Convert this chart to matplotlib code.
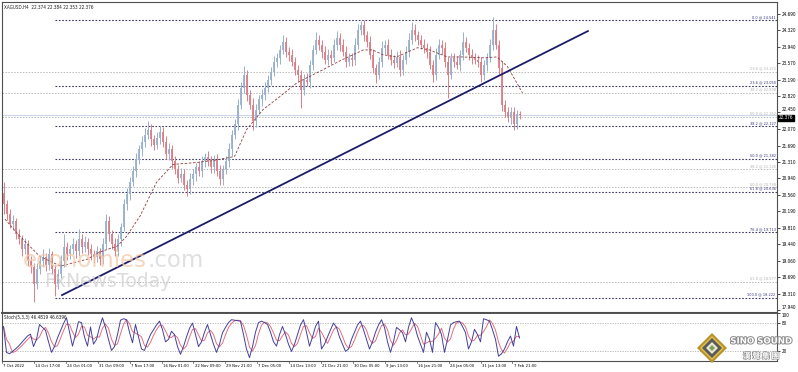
import numpy as np
import pandas as pd
import matplotlib
matplotlib.use("Agg")
import matplotlib.pyplot as plt
from matplotlib import font_manager
from matplotlib.patches import Polygon
import matplotlib.patheffects as pe

# XAGUSD H4 closes (compressed, one bar here ~ 4 chart bars)
closes = [20.35, 20.12, 19.90, 19.96, 19.67, 19.55, 19.33, 19.44, 19.05, 18.92,
          18.53, 18.87, 19.05, 19.14, 18.96, 19.21, 18.87, 18.53, 18.76, 19.05,
          19.37, 19.21, 19.33, 19.44, 19.28, 19.55, 19.37, 19.48, 19.33, 19.21,
          19.14, 19.28, 19.10, 19.44, 19.96, 19.67, 19.44, 19.28, 19.55, 19.83,
          20.35, 20.58, 20.87, 21.10, 21.37, 21.60, 21.78, 21.94, 22.05, 21.83,
          21.71, 21.87, 22.01, 21.78, 21.49, 21.60, 21.33, 21.15, 20.96, 21.03,
          20.80, 20.69, 20.92, 21.03, 21.19, 21.10, 21.33, 21.42, 21.33, 21.19,
          21.37, 21.10, 20.92, 21.15, 21.33, 21.60, 21.94, 22.17, 22.62, 23.01,
          23.30, 22.85, 22.62, 22.24, 22.51, 22.74, 22.85, 23.01, 23.19, 23.37,
          23.60, 23.69, 23.87, 24.05, 23.83, 23.76, 23.60, 23.42, 23.30, 22.96,
          23.19, 23.15, 23.53, 23.87, 24.10, 23.99, 23.83, 23.65, 23.76, 23.69,
          23.99, 24.15, 23.99, 23.83, 23.60, 23.69, 23.65, 23.99, 24.33, 24.44,
          24.21, 24.05, 23.76, 23.46, 23.30, 23.60, 23.92, 23.99, 23.76, 23.65,
          23.58, 23.72, 23.42, 23.65, 23.83, 24.10, 24.33, 24.21, 24.10, 23.99,
          23.92, 23.83, 23.53, 23.30, 23.76, 23.99, 23.92, 23.60, 23.30, 23.69,
          23.60, 23.53, 23.76, 24.05, 23.92, 23.76, 23.69, 23.65, 23.60, 23.30,
          23.53, 23.69, 23.99, 24.33, 23.99, 23.46, 22.62, 22.46, 22.33, 22.46,
          22.17, 22.40, 22.376]
first_open = 20.60

# wick lengths above / below the body
wick_hi = [0.25, 0.10, 0.12, 0.15, 0.08, 0.12, 0.10, 0.14, 0.09, 0.12,
           0.10, 0.15, 0.12, 0.18, 0.10, 0.14, 0.08, 0.10, 0.12, 0.15,
           0.30, 0.12, 0.10, 0.15, 0.10, 0.23, 0.12, 0.14, 0.10, 0.12,
           0.10, 0.12, 0.08, 0.15, 0.16, 0.12, 0.10, 0.14, 0.12, 0.10,
           0.12, 0.15, 0.10, 0.12, 0.14, 0.10, 0.12, 0.15, 0.19, 0.12,
           0.10, 0.14, 0.12, 0.10, 0.12, 0.15, 0.10, 0.12, 0.10, 0.14,
           0.12, 0.10, 0.15, 0.12, 0.10, 0.14, 0.12, 0.10, 0.15, 0.12,
           0.10, 0.12, 0.14, 0.10, 0.12, 0.15, 0.10, 0.12, 0.14, 0.12,
           0.21, 0.12, 0.10, 0.15, 0.12, 0.10, 0.14, 0.12, 0.10, 0.12,
           0.14, 0.10, 0.12, 0.16, 0.12, 0.10, 0.14, 0.12, 0.10, 0.12,
           0.12, 0.15, 0.10, 0.12, 0.18, 0.12, 0.10, 0.14, 0.12, 0.10,
           0.12, 0.15, 0.10, 0.12, 0.14, 0.10, 0.12, 0.15, 0.12, 0.10,
           0.12, 0.10, 0.14, 0.12, 0.10, 0.12, 0.15, 0.10, 0.12, 0.14,
           0.10, 0.12, 0.14, 0.10, 0.12, 0.15, 0.18, 0.12, 0.10, 0.12,
           0.14, 0.10, 0.12, 0.10, 0.15, 0.12, 0.10, 0.14, 0.12, 0.10,
           0.12, 0.14, 0.10, 0.23, 0.12, 0.10, 0.14, 0.12, 0.10, 0.12,
           0.12, 0.10, 0.14, 0.29, 0.12, 0.10, 0.15, 0.10, 0.12, 0.10,
           0.12, 0.10, 0.08]
wick_lo = [0.23, 0.12, 0.10, 0.14, 0.12, 0.10, 0.15, 0.12, 0.10, 0.14,
           0.40, 0.12, 0.10, 0.14, 0.12, 0.10, 0.12, 0.27, 0.12, 0.10,
           0.12, 0.14, 0.10, 0.12, 0.15, 0.10, 0.12, 0.10, 0.14, 0.12,
           0.12, 0.10, 0.14, 0.10, 0.12, 0.15, 0.12, 0.10, 0.12, 0.14,
           0.10, 0.12, 0.14, 0.10, 0.12, 0.10, 0.14, 0.12, 0.10, 0.15,
           0.12, 0.10, 0.14, 0.12, 0.10, 0.12, 0.15, 0.10, 0.12, 0.10,
           0.12, 0.14, 0.10, 0.12, 0.15, 0.10, 0.12, 0.14, 0.10, 0.12,
           0.12, 0.10, 0.14, 0.12, 0.10, 0.12, 0.14, 0.10, 0.12, 0.10,
           0.12, 0.14, 0.10, 0.19, 0.12, 0.10, 0.14, 0.12, 0.10, 0.12,
           0.10, 0.12, 0.14, 0.10, 0.12, 0.15, 0.10, 0.12, 0.14, 0.41,
           0.12, 0.10, 0.14, 0.12, 0.10, 0.12, 0.14, 0.10, 0.12, 0.15,
           0.10, 0.12, 0.14, 0.10, 0.12, 0.10, 0.14, 0.12, 0.10, 0.12,
           0.14, 0.12, 0.10, 0.12, 0.18, 0.10, 0.12, 0.14, 0.10, 0.12,
           0.12, 0.10, 0.14, 0.12, 0.10, 0.12, 0.10, 0.14, 0.12, 0.10,
           0.12, 0.14, 0.10, 0.16, 0.12, 0.10, 0.14, 0.12, 0.52, 0.10,
           0.12, 0.10, 0.14, 0.12, 0.10, 0.12, 0.14, 0.10, 0.12, 0.16,
           0.12, 0.14, 0.10, 0.12, 0.10, 0.14, 0.15, 0.12, 0.10, 0.14,
           0.12, 0.10, 0.08]

# Stoch(5,3,3) main line
stoch_k = [72, 18, 15, 20, 25, 31, 38, 45, 52, 56,
           30, 45, 76, 70, 64, 40, 18, 30, 48, 63,
           78, 90, 60, 31, 55, 82, 80, 50, 31, 71,
           35, 45, 70, 90, 70, 45, 22, 30, 55, 85,
           88, 86, 60, 38, 76, 50, 25, 22, 40, 55,
           65, 75, 83, 65, 40, 45, 62, 55, 30, 14,
           30, 50, 68, 79, 55, 30, 40, 60, 76, 55,
           35, 18, 35, 59, 70, 80, 86, 85, 84, 83,
           55, 25, 7, 30, 60, 80, 83, 80, 76, 60,
           40, 31, 55, 72, 55, 35, 20, 35, 55, 75,
           86, 60, 31, 50, 72, 83, 25, 35, 50, 65,
           79, 70, 50, 35, 20, 25, 45, 60, 75, 83,
           65, 45, 25, 40, 60, 75, 86, 70, 40, 18,
           40, 70, 65, 59, 40, 70, 90, 75, 52, 35,
           18, 60, 45, 18, 80, 70, 55, 18, 45, 75,
           80, 82, 83, 72, 59, 25, 40, 66, 55, 40,
           88, 86, 83, 65, 45, 10, 15, 25, 40, 52,
           31, 72, 48]

# dashed moving average (bar index, price)
ma_idx = [0.5, 5.5, 12, 19, 28, 32, 38, 41, 45.5, 51, 56.5, 64, 70, 77,
          81, 86.5, 92, 97.8, 106.5, 113, 120, 123, 126.5, 131, 138, 142,
          148, 153, 160, 164.5, 168, 173]
ma_val = [20.01, 19.62, 19.17, 18.94, 19.10, 19.26, 19.40, 19.62, 20.08, 20.85,
          21.26, 21.30, 21.35, 21.44, 22.05, 22.51, 22.80, 23.12, 23.42, 23.65,
          23.87, 23.87, 23.76, 23.71, 23.92, 23.87, 23.71, 23.71, 23.69, 23.71,
          23.49, 22.89]

trend_idx = [19.5, 194.8]
trend_px = [18.28, 24.30]

fib_levels = [0.0, 23.6, 38.2, 50.0, 61.8, 76.4, 100.0]
fib_prices = [24.541, 23.050, 22.127, 21.382, 20.636, 19.713, 18.222]
fib2_levels = [23.6, 38.2, 50.0, 38.2, 50.0, 61.8]
fib2_prices = [23.372, 22.898, 22.352, 21.145, 20.738, 18.577]

price_ticks = [24.690, 24.320, 23.940, 23.570, 23.190, 22.820, 22.450, 22.070,
               21.690, 21.310, 20.940, 20.560, 20.190, 19.810, 19.440, 19.060,
               18.690, 18.310, 17.940]
date_labels = ["7 Oct 2022", "14 Oct 17:00", "24 Oct 01:00", "31 Oct 09:00",
               "7 Nov 17:00", "16 Nov 01:00", "22 Nov 09:00", "29 Nov 21:00",
               "7 Dec 05:00", "14 Dec 13:00", "21 Dec 21:00", "30 Dec 05:00",
               "9 Jan 13:00", "16 Jan 21:00", "24 Jan 05:00", "31 Jan 13:00",
               "7 Feb 21:00"]
last_price = 22.376

# pick a narrow font for the tiny terminal labels if one is installed
installed = {(f.name, f.stretch) for f in font_manager.fontManager.ttflist}
names = {f.name for f in font_manager.fontManager.ttflist}
if "Liberation Sans Narrow" in names:
    SMALL = dict(family=["Liberation Sans Narrow", "DejaVu Sans"])
elif ("DejaVu Sans", "condensed") in installed or ("DejaVu Sans", "semi-condensed") in installed:
    SMALL = dict(family=["DejaVu Sans"], stretch="condensed")
else:
    SMALL = dict(family=["DejaVu Sans"])

UP_COL = "#98b0cc"
DN_COL = "#dd7d86"
FRAME = "#505050"
FS = 3.3

W, H = 798, 372
fig = plt.figure(figsize=(W / 100, H / 100), dpi=100)
fig.patch.set_facecolor("white")

ax = fig.add_axes([2 / W, 1 - 312 / H, 775 / W, 310 / H])
ax2 = fig.add_axes([2 / W, 1 - 361 / H, 775 / W, 48 / H], sharex=ax)

n = len(closes)
idx = np.arange(n)
c = np.array(closes)
o = np.array([first_open] + closes[:-1])
hi = np.maximum(o, c) + np.array(wick_hi)
lo = np.minimum(o, c) - np.array(wick_lo)
cols = np.where(c >= o, UP_COL, DN_COL)

x0, x1 = -0.5, -0.5 + 775 / 3
ax.set_xlim(x0, x1)
ax.set_ylim(24.690 - 298 / 44 - 1 / 44, 24.690 + 12 / 44)

# reference lines
for lv, p in zip(fib2_levels, fib2_prices):
    ax.axhline(p, color="#b9b9b9", lw=0.7, ls=(0, (1.5, 1.5)), zorder=1)
    ax.text(x1 - 0.5, p + 0.03, f"{lv:.1f} @ {p:.3f}", fontsize=2.8, **SMALL,
            color="#b0b0b0", ha="right", va="bottom", zorder=6)
ax.axhline(last_price, color="#c9d8ec", lw=0.8, zorder=1)
for lv, p in zip(fib_levels, fib_prices):
    ax.plot([17, x1], [p, p], color="#3c3c64", lw=0.8, ls=(0, (1.5, 1.5)), zorder=1)
    ax.text(x1 - 0.5, p + 0.03, f"{lv:.1f} @ {p:.3f}", fontsize=2.8, **SMALL,
            color="#30307a", ha="right", va="bottom", zorder=6)

# candles
ax.vlines(idx, lo, hi, colors=cols, lw=0.7, zorder=3)
ax.vlines(idx, o, c, colors=cols, lw=1.3, zorder=3)

ax.plot(ma_idx, ma_val, color="#8a3c3c", lw=0.6, ls=(0, (3, 2)), zorder=4)
ax.plot(trend_idx, trend_px, color="#1c1c6a", lw=1.3, zorder=5)

ax.yaxis.tick_right()
ax.set_yticks(price_ticks)
ax.set_yticklabels([f"{t:.3f}" for t in price_ticks], fontsize=FS, **SMALL)
ax.tick_params(axis="y", length=2, width=0.5, pad=1.5, colors="black")
ax.tick_params(axis="x", bottom=False, labelbottom=False)
# the label next to the price box sits just above it, the last one hugs the bottom
ylabs = ax.get_yticklabels()
ylabs[6].set_verticalalignment("bottom")
ylabs[-1].set_verticalalignment("bottom")
for s in ax.spines.values():
    s.set_color(FRAME)
    s.set_linewidth(0.8)

ax.text(0.003, 0.99, "XAGUSD,H4  22.374 22.384 22.353 22.376", fontsize=FS,
        transform=ax.transAxes, **SMALL, ha="left", va="top", color="#202020")

# current price box
ax.text(x1 + 0.6, last_price, f"{last_price:.3f}", fontsize=FS, **SMALL,
        color="white", ha="left", va="top", zorder=8, clip_on=False,
        bbox=dict(boxstyle="square,pad=0.2", fc="black", ec="black"))

# watermark
wx = (147 - 3.5) / 3
ax.text(wx, 19.06, "economies", fontsize=16.5, color="#f3c9a8", alpha=0.75,
        ha="right", va="center", zorder=7)
ax.text(wx, 19.06, ".com", fontsize=16.5, color="#d6d6d6", alpha=0.75,
        ha="left", va="center", zorder=7)
ax.text(13.5, 18.60, "FxNewsToday", fontsize=13.5, color="#cfcfcf", alpha=0.75,
        ha="left", va="center", zorder=7)

# stochastic panel
k = pd.Series(stoch_k, dtype=float)
d = k.rolling(3, min_periods=1).mean()
ax2.plot(idx, d, color="#e07080", lw=0.7, zorder=3)
ax2.plot(idx, k, color="#45409a", lw=0.7, zorder=4)
for lvl in (80, 20):
    ax2.axhline(lvl, color="#b0b0b0", lw=0.6, ls=(0, (1.5, 1.5)), zorder=1)
ax2.set_ylim(0, 100)
ax2.set_xlim(x0, x1)
ax2.yaxis.tick_right()
ax2.set_yticks([100, 80, 20])
ax2.set_yticklabels(["100", "80", "20"], fontsize=FS, **SMALL)
ax2.get_yticklabels()[0].set_verticalalignment("top")
ax2.tick_params(axis="y", length=2, width=0.5, pad=1.5)
ax2.tick_params(axis="x", bottom=False, labelbottom=False)
for s in ax2.spines.values():
    s.set_color(FRAME)
    s.set_linewidth(0.8)
ax2.spines["top"].set_linewidth(1.4)
ax2.text(0.003, 0.95, "Stoch(5,3,3) 46.4819 46.6396", fontsize=FS, **SMALL,
         transform=ax2.transAxes, ha="left", va="top", color="#202020")

# date labels under the stochastic panel
tick_pos = [(2 + 31.9 * j - 3.5) / 3 for j in range(len(date_labels))]
for xp, lab in zip(tick_pos, date_labels):
    ax2.text(xp + 0.4, -0.07, lab, transform=ax2.get_xaxis_transform(),
             fontsize=3.1, **SMALL, ha="left", va="top", clip_on=False)
    ax2.plot([xp, xp], [0, -0.05], transform=ax2.get_xaxis_transform(),
             color=FRAME, lw=0.5, clip_on=False)

# logo in the bottom-right corner
ov = fig.add_axes([0, 0, 1, 1], zorder=10)
ov.set_xlim(0, W)
ov.set_ylim(H, 0)
ov.axis("off")
cx, cy = 712, 348
for r, col in [(15, "#b8922c"), (12, "#e2c24a"), (10, "#5a5a5a"), (6, "#e8e8d8"), (3, "#7ea050")]:
    ov.add_patch(Polygon([(cx, cy - r), (cx + r, cy), (cx, cy + r), (cx - r, cy)],
                         closed=True, fc=col, ec="none"))
ov.text(761, 341, "SINO SOUND", fontsize=6.2, fontweight="bold", color="white",
        ha="center", va="center",
        path_effects=[pe.withStroke(linewidth=1.4, foreground="#8a8a8a")])
ov.text(761, 356, "漢 聲 集 團", fontsize=5.6, fontweight="bold", color="white",
        family=["Noto Sans CJK TC", "DejaVu Sans"], ha="center", va="center",
        path_effects=[pe.withStroke(linewidth=0.9, foreground="#8a8a8a")])

fig.savefig("out.png", dpi=100)
